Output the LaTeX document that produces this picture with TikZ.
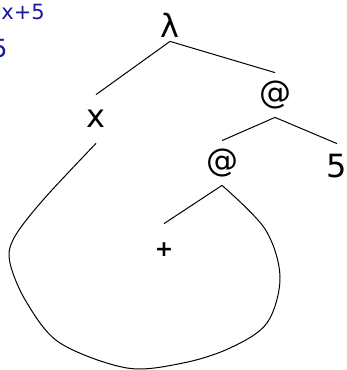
\documentclass[tikz,border=0pt]{standalone}
\usepackage{fontspec}
\setmainfont{DejaVu Sans}
\usepackage{tikz}
\usetikzlibrary{positioning}
\definecolor{termblue}{RGB}{25,25,160}

\begin{document}
\begin{tikzpicture}[x=0.5pt,y=-0.5pt,
        sym/.style={inner sep=0pt, minimum height=22pt, font=\fontsize{16}{19}\selectfont},
        src/.style={inner sep=0pt, text=termblue, font=\fontsize{10.5}{12}\selectfont},
        edge/.style={line width=0.5pt}]
        \useasboundingbox (0,0) rectangle (347,370);
        % the term, in blue
        \node[src, anchor=west] (term) at (1,11.5) {x+5};
        \node[src, anchor=east, font=\fontsize{12.5}{15}\selectfont] (res) at (8,49) {5};
        % the tree
        \node[sym, minimum height=16pt] (lam) at (170,25) {λ};
        \node[sym, minimum height=24pt] (x) at (96,119) {x};
        \node[sym] (app1) at (275,95) {@};
        \node[sym] (app2) at (222,163) {@};
        \node[sym] (five) at (337,166) {5};
        \node[sym, minimum height=26pt, font=\fontsize{11}{13}\selectfont\bfseries] (plus) at (164,250) {+};
        \draw[edge] (lam.south) -- (x.north);
        \draw[edge] (lam.south) -- (app1.north);
        \draw[edge] (app1.south) -- (app2.north);
        \draw[edge] (app1.south) -- (five.north);
        \draw[edge] (app2.south) -- (plus.north);
        % x is shared: loop back to the inner @
        \draw[edge] plot[smooth, tension=0.55] coordinates {(x.south) (43,200) (14,238) (10,263) (27,303)
            (60,343) (127,368) (183,363) (230,348) (267,323) (280,277) (265,229) (app2.south)};
    \end{tikzpicture}
\end{document}
